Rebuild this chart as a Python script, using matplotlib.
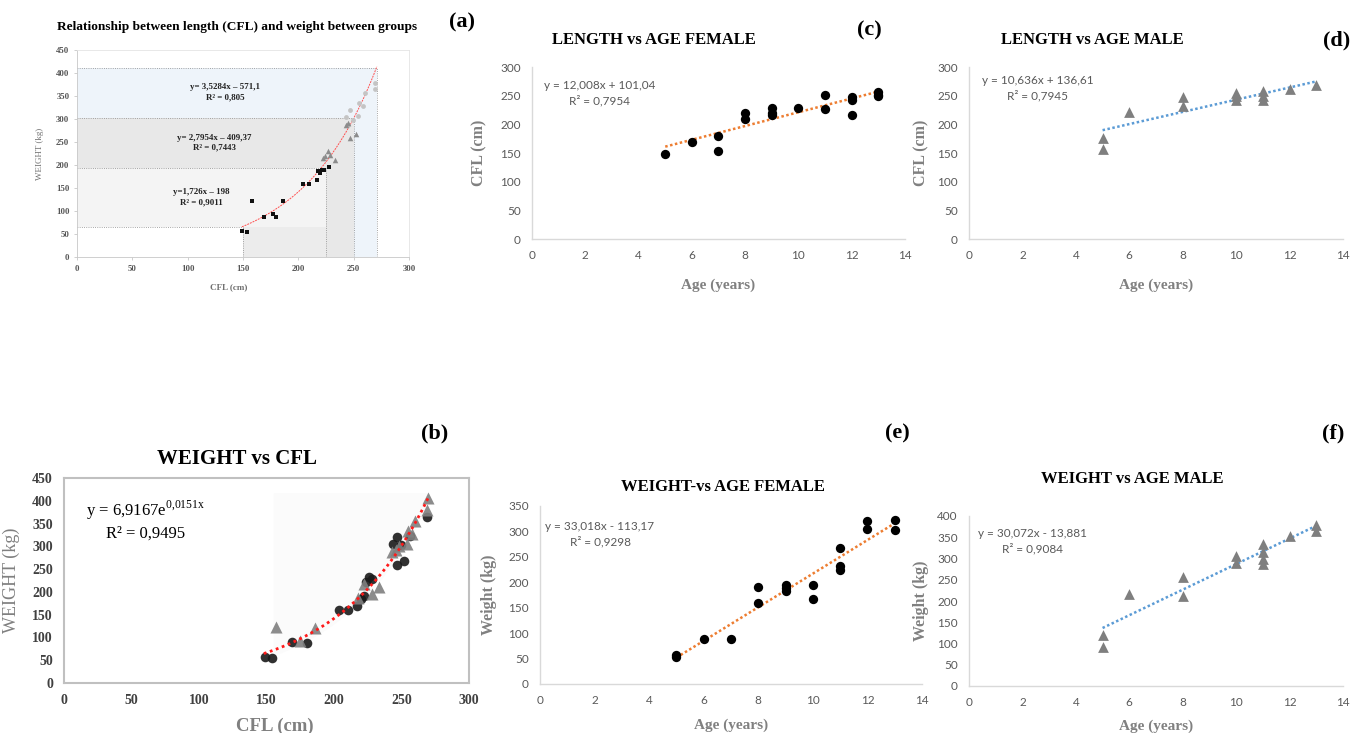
import numpy as np
import matplotlib.pyplot as plt
from matplotlib.patches import Rectangle

W, H = 1371, 733
SERIF = 'Liberation Serif'
SANS = 'Lato'

plt.rcParams['mathtext.fontset'] = 'custom'
plt.rcParams['mathtext.rm'] = SERIF

# ---- (a) length-weight relationship split into three groups ----
a_sq_cfl = [149, 154, 158, 169, 177, 180, 186, 204, 210, 217, 218, 220, 221, 223, 228]
a_sq_wt = [56, 54, 122, 88, 93, 88, 122, 159, 159, 168, 188, 183, 190, 190, 195]
a_tri_cfl = [222, 224, 227, 229, 233, 243, 245, 247, 252]
a_tri_wt = [215, 220, 231, 222, 210, 288, 292, 258, 268]
a_circ_cfl = [243, 245, 247, 249, 254, 255, 258, 260, 269, 269]
a_circ_wt = [305, 287, 320, 298, 306, 335, 328, 356, 378, 365]
a_bound_cfl = [150, 225, 250, 271]
a_bound_wt = [66, 193, 303, 410]
a_eqs = ['y=1,726x – 198\nR² = 0,9011',
         'y= 2,7954x – 409,37\nR² = 0,7443',
         'y= 3,5284x – 571,1\nR² = 0,805']

# ---- (b) weight vs CFL, females (circles) and males (triangles) ----
b_fem_cfl = [149, 154, 169, 180, 204, 210, 217, 220, 222, 224, 226, 228,
             244, 247, 247, 250, 252, 256, 269]
b_fem_wt = [58, 54, 90, 88, 160, 161, 168, 184, 190, 221, 233, 228,
            305, 320, 258, 303, 268, 322, 365]
b_male_cfl = [157, 175, 186, 218, 222, 228, 233, 243, 246, 248, 254, 255,
              258, 260, 269, 270]
b_male_wt = [122, 93, 120, 186, 217, 196, 210, 288, 292, 300, 306, 333,
             328, 355, 379, 407]
b_exp = (6.9167, 0.0151)

# ---- (c) length vs age, female ----
c_age = [5, 6, 7, 7, 8, 8, 9, 9, 9, 10, 11, 11, 12, 12, 12, 13, 13, 13]
c_cfl = [148, 169, 180, 154, 220, 210, 228, 220, 216, 228, 252, 227,
         247, 243, 217, 256, 250, 252]
c_fit = (12.008, 101.04)

# ---- (d) length vs age, male ----
d_age = [5, 5, 6, 8, 8, 10, 10, 10, 11, 11, 11, 12, 13]
d_cfl = [177, 157, 222, 247, 232, 255, 249, 243, 258, 250, 243, 261, 268]
d_fit = (10.636, 136.61)

# ---- (e) weight vs age, female ----
e_age = [5, 5, 6, 7, 8, 8, 9, 9, 9, 10, 10, 11, 11, 11, 12, 12, 13, 13]
e_wt = [57, 53, 89, 88, 190, 160, 195, 189, 182, 195, 168, 268, 233, 225,
        320, 305, 323, 302]
e_fit = (33.018, -113.17)

# ---- (f) weight vs age, male ----
f_age = [5, 5, 6, 8, 8, 10, 10, 11, 11, 11, 11, 12, 13, 13]
f_wt = [121, 92, 216, 257, 212, 306, 289, 333, 316, 298, 286, 354, 380, 365]
f_fit = (30.072, -13.881)


def box(l, t, r, b):
    return [l / W, 1 - b / H, (r - l) / W, (b - t) / H]


def px(x, y):
    return x / W, 1 - y / H


def excel_style(ax, ymax, ystep, xlabel, ylabel, xlab_y, ylab_x):
    ax.set_xlim(0, 14)
    ax.set_ylim(0, ymax)
    ax.set_xticks(range(0, 15, 2))
    ax.set_yticks(range(0, ymax + 1, ystep))
    for s in ['top', 'right']:
        ax.spines[s].set_visible(False)
    for s in ['left', 'bottom']:
        ax.spines[s].set_color('#d9d9d9')
        ax.spines[s].set_linewidth(1.0)
    ax.tick_params(length=0, labelsize=8.5, labelcolor='#595959', pad=8)
    for lab in ax.get_xticklabels() + ax.get_yticklabels():
        lab.set_fontfamily(SANS)
    ax.set_xlabel(xlabel, family=SERIF, fontweight='bold', fontsize=11, color='#808080')
    ax.set_ylabel(ylabel, family=SERIF, fontweight='bold', fontsize=11.5, color='#808080')
    ax.xaxis.set_label_coords(0.5, xlab_y)
    ax.yaxis.set_label_coords(ylab_x, 0.5)


def trend(ax, fit, color, x0=5, x1=13):
    xs = np.array([x0, x1])
    ax.plot(xs, fit[0] * xs + fit[1], color=color, lw=1.8, ls=(0, (1, 1)))


fig = plt.figure(figsize=(13.71, 7.33), dpi=100)

# ---------------- panel (a) ----------------
ax = fig.add_axes(box(77, 50, 409, 257))
ax.set_xlim(0, 300)
ax.set_ylim(0, 450)
c1, c2, c3, c4 = a_bound_cfl
w1, w2, w3, w4 = a_bound_wt
ax.add_patch(Rectangle((0, 0), c4, w4, color='#eef4fa', lw=0, zorder=0))
ax.add_patch(Rectangle((0, 0), c3, w3, color='#e8e8e8', lw=0, zorder=0))
ax.add_patch(Rectangle((0, 0), c2, w2, color='#f4f4f4', lw=0, zorder=0))
ax.add_patch(Rectangle((c1, 0), c2 - c1, w1, color='#ececec', lw=0, zorder=0))
ax.add_patch(Rectangle((0, 0), c1, w1, color='white', lw=0, zorder=0))
for c, w in zip(a_bound_cfl, a_bound_wt):
    ax.plot([0, c], [w, w], color='#8a8a8a', lw=0.6, ls=':', zorder=1)
    ax.plot([c, c], [0, w], color='#8a8a8a', lw=0.6, ls=':', zorder=1)
xc = np.linspace(149, 271, 100)
ax.plot(xc, b_exp[0] * np.exp(b_exp[1] * xc), color='#ff5050', lw=0.7, ls=(0, (2, 1)), zorder=2)
ax.scatter(a_circ_cfl, a_circ_wt, s=12, color='#c4c4c4', zorder=3, lw=0)
ax.scatter(a_tri_cfl, a_tri_wt, s=16, marker='^', color='#8c8c8c', zorder=3, lw=0)
ax.scatter(a_sq_cfl, a_sq_wt, s=9, marker='s', color='#111111', zorder=4, lw=0)
for (xt, yt), eq in zip([(112, 130), (124, 248), (134, 358)], a_eqs):
    ax.text(xt, yt, eq, ha='center', va='center', family=SERIF, fontweight='bold',
            fontsize=6.4, color='#222222', linespacing=1.3)
ax.set_xticks(range(0, 301, 50))
ax.set_yticks(range(0, 451, 50))
for s in ax.spines.values():
    s.set_color('#e4e4e4')
    s.set_linewidth(0.6)
ax.spines['left'].set_color('#c8c8c8')
ax.spines['bottom'].set_color('#c8c8c8')
ax.tick_params(length=2.5, width=0.6, color='#c8c8c8', labelsize=6.3,
               labelcolor='#555555', pad=3)
for lab in ax.get_xticklabels() + ax.get_yticklabels():
    lab.set_fontfamily(SERIF)
    lab.set_fontweight('bold')
ax.set_xlabel('CFL (cm)', family=SERIF, fontsize=6.5, color='#707070', fontweight='bold')
ax.set_ylabel('WEIGHT (kg)', family=SERIF, fontsize=6.5, color='#707070')
ax.xaxis.set_label_coords(0.458, -0.126)
ax.yaxis.set_label_coords(-0.10, 0.5)
fig.text(*px(237, 27), 'Relationship between length (CFL) and weight between groups',
         ha='center', va='center', family=SERIF, fontweight='bold', fontsize=9.6)

# ---------------- panel (b) ----------------
ax = fig.add_axes(box(64, 478, 469, 683))
ax.set_xlim(0, 300)
ax.set_ylim(0, 450)
xs = np.linspace(155, 270, 100)
ax.fill_between(xs, b_exp[0] * np.exp(b_exp[1] * xs) - 12, 418, color='#fbfbfb', lw=0, zorder=0)
xc = np.linspace(148, 270, 100)
ax.plot(xc, b_exp[0] * np.exp(b_exp[1] * xc), color='#ff1a1a', lw=2, ls=(0, (1, 1.3)), zorder=3)
ax.scatter(b_fem_cfl, b_fem_wt, s=48, color='#1a1a1a', alpha=0.9, lw=0, zorder=2)
ax.scatter(b_male_cfl, b_male_wt, s=75, marker='^', color='#808080', alpha=0.9, lw=0, zorder=2)
ax.text(60.7, 358, 'y = 6,9167e$^{\\mathrm{0{,}0151x}}$\nR² = 0,9495', ha='center', va='center',
        family=SERIF, fontsize=12, linespacing=1.3)
ax.set_xticks(range(0, 301, 50))
ax.set_yticks(range(0, 451, 50))
for s in ax.spines.values():
    s.set_color('#c0c0c0')
    s.set_linewidth(1.5)
ax.tick_params(length=0, labelsize=10, labelcolor='#404040', pad=8)
for lab in ax.get_xticklabels() + ax.get_yticklabels():
    lab.set_fontfamily(SERIF)
    lab.set_fontweight('bold')
ax.set_xlabel('CFL (cm)', family=SERIF, fontsize=13.5, color='#808080', fontweight='bold')
ax.set_ylabel('WEIGHT (kg)', family=SERIF, fontsize=13, color='#808080')
ax.xaxis.set_label_coords(0.52, -0.17)
ax.yaxis.set_label_coords(-0.109, 0.5)
fig.text(*px(237, 459), 'WEIGHT vs CFL', ha='center', va='center', family=SERIF,
         fontweight='bold', fontsize=15)

# ---------------- panel (c) ----------------
ax = fig.add_axes(box(532, 67, 905, 239))
ax.scatter(c_age, c_cfl, s=45, color='black', lw=0, zorder=3)
trend(ax, c_fit, '#ed7d31')
ax.text(2.55, 254, 'y = 12,008x + 101,04\nR² = 0,7954', ha='center', va='center',
        family=SANS, fontsize=8.5, color='#595959', linespacing=1.35)
excel_style(ax, 300, 50, 'Age (years)', 'CFL (cm)', -0.227, -0.12)
fig.text(*px(654, 40), 'LENGTH vs AGE FEMALE', ha='center', va='center', family=SERIF,
         fontweight='bold', fontsize=12)

# ---------------- panel (d) ----------------
ax = fig.add_axes(box(969, 67, 1343, 239))
ax.scatter(d_age, d_cfl, s=60, marker='^', color='#7f7f7f', lw=0, zorder=3)
trend(ax, d_fit, '#5b9bd5')
ax.text(2.58, 263, 'y = 10,636x + 136,61\nR² = 0,7945', ha='center', va='center',
        family=SANS, fontsize=8.5, color='#595959', linespacing=1.35)
excel_style(ax, 300, 50, 'Age (years)', 'CFL (cm)', -0.227, -0.105)
fig.text(*px(1092, 40), 'LENGTH vs AGE MALE', ha='center', va='center', family=SERIF,
         fontweight='bold', fontsize=12)

# ---------------- panel (e) ----------------
ax = fig.add_axes(box(540, 506, 922, 684))
ax.scatter(e_age, e_wt, s=45, color='black', lw=0, zorder=3)
trend(ax, e_fit, '#ed7d31')
ax.text(2.2, 295, 'y = 33,018x - 113,17\nR² = 0,9298', ha='center', va='center',
        family=SANS, fontsize=8.5, color='#595959', linespacing=1.35)
excel_style(ax, 350, 50, 'Age (years)', 'Weight (kg)', -0.195, -0.113)
fig.text(*px(723, 487), 'WEIGHT-vs AGE FEMALE', ha='center', va='center', family=SERIF,
         fontweight='bold', fontsize=12)

# ---------------- panel (f) ----------------
ax = fig.add_axes(box(969, 516, 1343, 686))
ax.scatter(f_age, f_wt, s=60, marker='^', color='#7f7f7f', lw=0, zorder=3)
trend(ax, f_fit, '#5b9bd5')
ax.text(2.36, 341, 'y = 30,072x - 13,881\nR² = 0,9084', ha='center', va='center',
        family=SANS, fontsize=8.5, color='#595959', linespacing=1.35)
excel_style(ax, 400, 50, 'Age (years)', 'Weight (kg)', -0.2, -0.108)
fig.text(*px(1132, 479), 'WEIGHT vs AGE MALE', ha='center', va='center', family=SERIF,
         fontweight='bold', fontsize=12)

# panel letters
for (x, y), lab in zip([(462, 22), (435, 433), (869, 30), (1337, 40), (897, 433), (1333, 433)],
                       ['(a)', '(b)', '(c)', '(d)', '(e)', '(f)']):
    fig.text(*px(x, y), lab, ha='center', va='center', family=SERIF,
             fontweight='bold', fontsize=16)

fig.savefig('out.png', dpi=100)
